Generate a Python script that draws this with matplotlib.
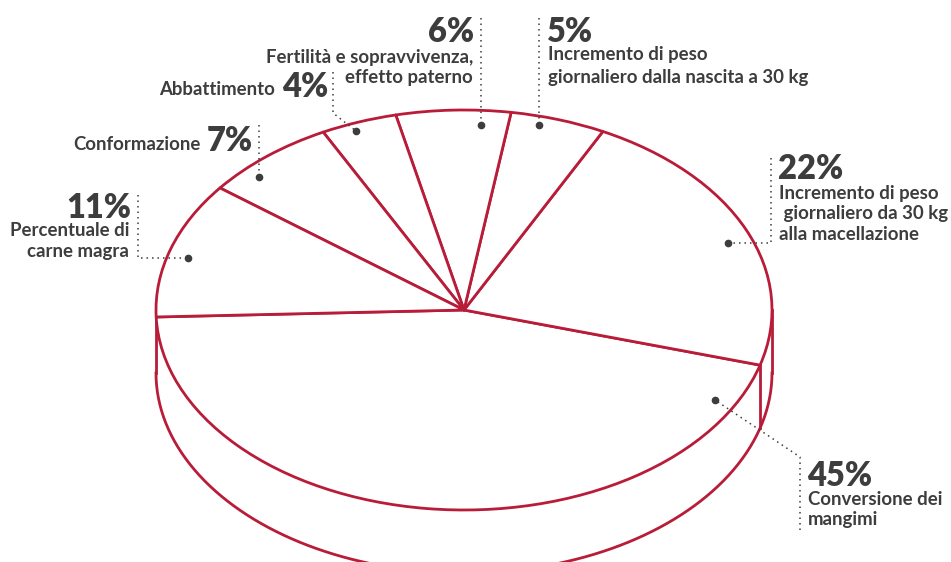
import numpy as np
import matplotlib
matplotlib.use("Agg")
import matplotlib.pyplot as plt

plt.rcParams['font.family'] = ['Lato', 'DejaVu Sans']

# slice values, counter-clockwise starting at the left edge
shares = [45, 22, 5, 6, 4, 7, 11]
pct_labels = ["45%", "22%", "5%", "6%", "4%", "7%", "11%"]
names = ["Conversione dei\nmangimi",
         "Incremento di peso\n giornaliero da 30 kg\nalla macellazione",
         "Incremento di peso\ngiornaliero dalla nascita a 30 kg",
         "Fertilità e sopravvivenza,\neffetto paterno",
         "Abbattimento",
         "Conformazione",
         "Percentuale di\ncarne magra"]

RED = "#b81c38"
INK = "#3d3d3d"
W, H = 951, 562
cx, cy = 464, 310      # pie centre in pixels
rx, ry = 308, 200      # ellipse radii in pixels
depth = 63 / ry        # thickness of the disc in pie units

fig = plt.figure(figsize=(W / 100, H / 100), dpi=100)
ax = fig.add_axes([0, 0, 1, 1])
wedges, _ = ax.pie(shares, startangle=182, counterclock=True, radius=1,
                   wedgeprops=dict(facecolor="white", edgecolor=RED,
                                   linewidth=2.0, joinstyle="round"))
ax.set_aspect('auto')
ax.set_xlim(-cx / rx, (W - cx) / rx)
ax.set_ylim(-(H - cy) / ry, cy / ry)
ax.axis('off')

# side of the disc
t = np.linspace(np.pi, 2 * np.pi, 300)
ax.plot(np.cos(t), np.sin(t) - depth, color=RED, lw=2.0, zorder=0)
ax.plot([-1, -1], [0, -depth], color=RED, lw=2.0, zorder=0)
ax.plot([1, 1], [0, -depth], color=RED, lw=2.0, zorder=0)
edge = np.deg2rad(182 + shares[0] * 3.6)
ax.plot([np.cos(edge)] * 2, [np.sin(edge), np.sin(edge) - depth],
        color=RED, lw=2.0, zorder=0)

# overlay in pixel coordinates for the callouts
ov = fig.add_axes([0, 0, 1, 1])
ov.set_xlim(0, W)
ov.set_ylim(H, 0)
ov.axis('off')
ov.patch.set_alpha(0)

dot_kw = dict(color=INK, lw=1.1, ls=(0, (1, 2.6)))


def leader(xs, ys):
    ov.plot(xs, ys, **dot_kw)
    ov.plot(xs[-1], ys[-1], 'o', color=INK, ms=4.5)


pct_kw = dict(fontsize=23.5, fontweight='heavy', color=INK)
lab_kw = dict(fontsize=13.4, fontweight='bold', color=INK)

# 45%
leader([800, 800, 715], [530, 457, 400])
ov.text(807, 486, pct_labels[0], ha='left', va='baseline', **pct_kw)
ov.text(808, 491, names[0], ha='left', va='top', linespacing=1.22, **lab_kw)

# 22%
leader([771, 771, 728], [158, 243, 243])
ov.text(778, 179, pct_labels[1], ha='left', va='baseline', **pct_kw)
ov.text(779, 185, names[1], ha='left', va='top', linespacing=1.25, **lab_kw)

# 5%
leader([539, 539], [18, 125])
ov.text(547, 42, pct_labels[2], ha='left', va='baseline', **pct_kw)
ov.text(548, 46, names[2], ha='left', va='top', linespacing=1.42, **lab_kw)

# 6%
leader([481, 481], [18, 125])
ov.text(474, 42, pct_labels[3], ha='right', va='baseline', **pct_kw)
for i, line in enumerate(names[3].split("\n")):
    ov.text(473, 63 + 20.5 * i, line, ha='right', va='baseline', **lab_kw)

# 4%
leader([333, 333, 356], [72, 113, 131])
ov.text(328, 97, pct_labels[4], ha='right', va='baseline', **pct_kw)
ov.text(275, 95, names[4], ha='right', va='baseline', **lab_kw)

# 7%
leader([259, 259], [125, 177])
ov.text(253, 151, pct_labels[5], ha='right', va='baseline', **pct_kw)
ov.text(201, 150, names[5], ha='right', va='baseline', **lab_kw)

# 11%
leader([138, 138, 188], [195, 258, 258])
ov.text(131, 218, pct_labels[6], ha='right', va='baseline', **pct_kw)
ov.text(129, 222, names[6], ha='right', va='top', multialignment='right',
        linespacing=1.25, **lab_kw)

fig.savefig("out.png", dpi=100, facecolor="white")
